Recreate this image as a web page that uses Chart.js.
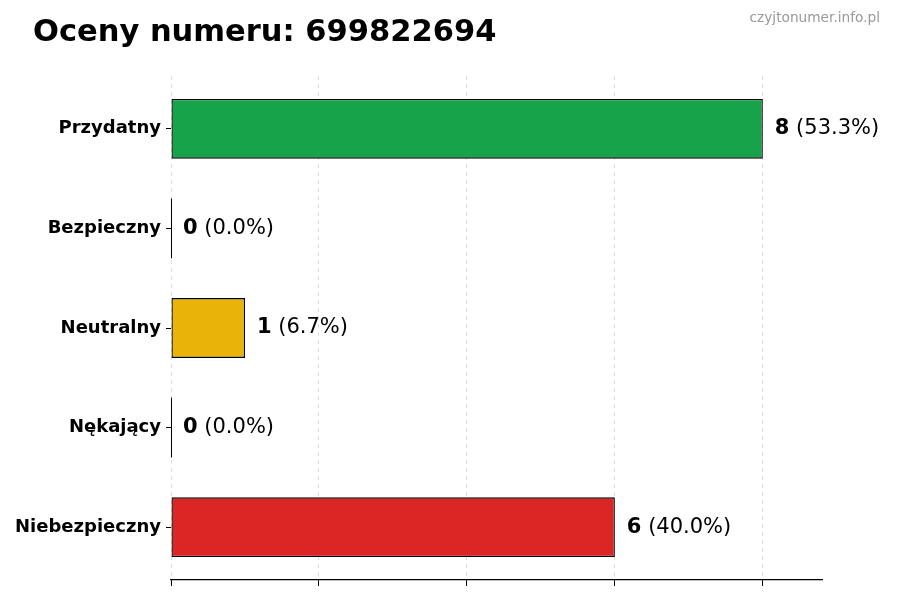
<!DOCTYPE html>
<html>
<head>
<meta charset="utf-8">
<script src="https://cdn.jsdelivr.net/npm/chart.js@4/dist/chart.umd.min.js"></script>
<style>
  html, body { margin: 0; padding: 0; background: #fff; }
  #wrap { width: 900px; height: 600px; }
</style>
</head>
<body>
<div id="wrap"><canvas id="ratingsChart" width="900" height="600"></canvas></div>
<script>
// chart data
const categories = ['Przydatny', 'Bezpieczny', 'Neutralny', 'Nękający', 'Niebezpieczny'];
const counts = [8, 0, 1, 0, 6];
const xTicks = [0, 2, 4, 6, 8];
const titleText = 'Oceny numeru: 699822694';
const watermarkText = 'czyjtonumer.info.pl';

const BAR_COLORS = ['#16a34a', '#3b82f6', '#eab308', '#a855f7', '#dc2626'];
const FONT = '"DejaVu Sans", sans-serif';

var total = counts.reduce(function (a, b) { return a + b; }, 0);

// bars sit on a linear y scale so the small top/bottom margins match
var barData = counts.map(function (v, i) { return { x: v, y: i }; });

// title, watermark and value labels
const labelsPlugin = {
    id: 'labelsPlugin',
    afterDatasetsDraw(chart) {
        var ctx = chart.ctx;
        var meta = chart.getDatasetMeta(0);
        ctx.save();
        meta.data.forEach(function (bar, i) {
            var v = counts[i];
            // matplotlib still draws an edge on zero width bars
            if (v === 0) {
                ctx.strokeStyle = '#000';
                ctx.lineWidth = 1;
                ctx.beginPath();
                ctx.moveTo(bar.base + 0.5, bar.y - bar.height / 2);
                ctx.lineTo(bar.base + 0.5, bar.y + bar.height / 2);
                ctx.stroke();
            }
            var x = bar.x + 12;
            ctx.fillStyle = '#000';
            ctx.textBaseline = 'middle';
            ctx.textAlign = 'left';
            ctx.font = 'bold 21px ' + FONT;
            ctx.fillText(String(v), x, bar.y);
            var w = ctx.measureText(String(v)).width;
            ctx.font = '21px ' + FONT;
            var pct = total ? (v / total * 100).toFixed(1) : '0.0';
            ctx.fillText(' (' + pct + '%)', x + w, bar.y);
        });
        ctx.restore();
    },
    afterDraw(chart) {
        var ctx = chart.ctx;
        ctx.save();
        ctx.textBaseline = 'alphabetic';
        ctx.textAlign = 'left';
        ctx.fillStyle = '#000';
        ctx.font = 'bold 30.5px ' + FONT;
        ctx.fillText(titleText, 33, 41);
        ctx.textAlign = 'right';
        ctx.fillStyle = '#999';
        ctx.font = '13.7px ' + FONT;
        ctx.fillText(watermarkText, 880, 22);
        ctx.restore();
    }
};

var ctx = document.getElementById('ratingsChart');
var myChart = new Chart(ctx, {
    type: 'bar',
    plugins: [labelsPlugin],
    data: {
        datasets: [{
            data: barData,
            backgroundColor: BAR_COLORS,
            borderColor: '#000',
            borderWidth: 1.3,
            borderSkipped: false,
            barPercentage: 0.6,
            categoryPercentage: 1.0
        }]
    },
    options: {
        indexAxis: 'y',
        responsive: false,
        animation: false,
        layout: {
            padding: { top: 76, right: 78, bottom: 0, left: 0 }
        },
        plugins: {
            legend: { display: false },
            title: { display: false },
            tooltip: { enabled: false }
        },
        scales: {
            x: {
                type: 'linear',
                min: 0,
                max: 8.8,
                afterBuildTicks: function (axis) {
                    axis.ticks = xTicks.map(function (v) { return { value: v }; });
                },
                ticks: { display: false },
                grid: {
                    color: '#dddddd',
                    lineWidth: 1,
                    drawTicks: true,
                    tickLength: 6,
                    tickColor: '#000',
                    tickWidth: 1
                },
                border: { display: true, color: '#000', width: 1.2, dash: [4, 4] },
                afterFit: function (axis) { axis.height = 20; }
            },
            y: {
                type: 'linear',
                reverse: true,
                offset: false,
                min: -0.53,
                max: categories.length - 1 + 0.53,
                afterBuildTicks: function (axis) {
                    axis.ticks = categories.map(function (c, i) { return { value: i }; });
                },
                ticks: {
                    color: '#000',
                    padding: 5,
                    font: { family: FONT, size: 18, weight: 'bold' },
                    callback: function (value) { return categories[value]; }
                },
                grid: {
                    offset: false,
                    drawOnChartArea: false,
                    drawTicks: true,
                    tickLength: 5,
                    tickColor: '#000'
                },
                border: { display: false },
                afterFit: function (axis) { axis.width = 171; }
            }
        }
    }
});
</script>
</body>
</html>
